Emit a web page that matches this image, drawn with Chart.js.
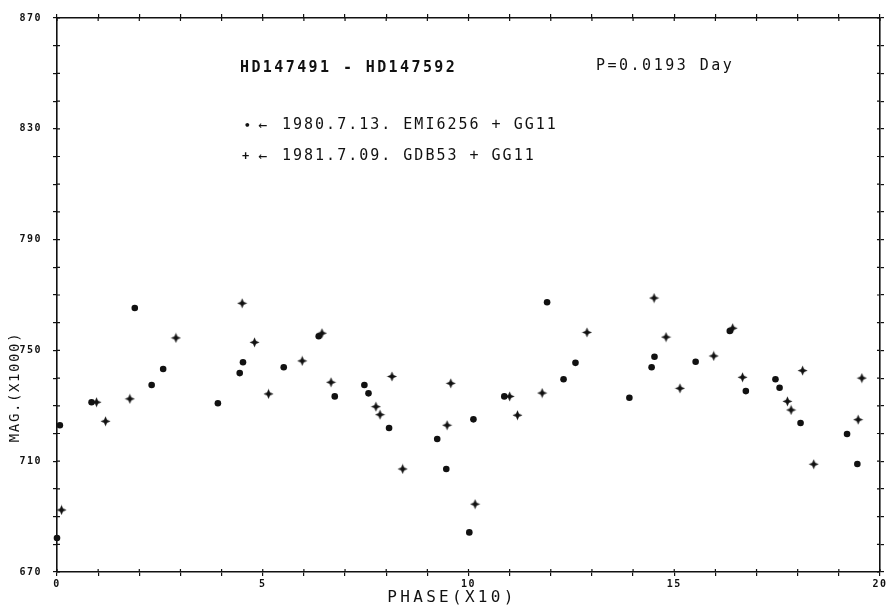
<!DOCTYPE html>
<html>
<head>
<meta charset="utf-8">
<script src="https://cdn.jsdelivr.net/npm/chart.js@4.4.1/dist/chart.umd.min.js"></script>
<style>
  html, body { margin: 0; padding: 0; background: #fff; }
  #wrap { width: 888px; height: 612px; }
</style>
</head>
<body>
<div id="wrap"><canvas id="lc"></canvas></div>
<script>
// 1980.7.13 run (dots)
const phase1980 = [0.00, 0.07, 0.84, 1.89, 2.30, 2.58, 3.91, 4.44, 4.52, 5.51, 6.36, 6.75, 7.47, 7.57, 8.07, 9.24, 9.46,
                   10.02, 10.12, 10.87, 11.91, 12.31, 12.60, 13.91, 14.45, 14.52, 15.52, 16.35, 16.74, 17.46, 17.56, 18.07, 19.20, 19.45];
const mag1980 = [682.3, 723.0, 731.3, 765.3, 737.5, 743.3, 730.9, 741.8, 745.7, 743.9, 755.1, 733.4, 737.5, 734.5, 722.0, 718.0, 707.2,
                 684.3, 725.1, 733.4, 767.4, 739.6, 745.5, 732.9, 743.9, 747.7, 745.9, 757.0, 735.3, 739.6, 736.5, 723.8, 719.8, 709.0];

// 1981.7.09 run (crosses)
const phase1981 = [0.11, 0.96, 1.18, 1.77, 2.89, 4.50, 4.80, 5.14, 5.96, 6.44, 6.66, 7.75, 7.85, 8.14, 8.40, 9.48, 9.57,
                   10.16, 11.00, 11.19, 11.79, 12.88, 14.51, 14.80, 15.14, 15.96, 16.42, 16.66, 17.75, 17.84, 18.12, 18.39, 19.47, 19.56];
const mag1981 = [692.4, 731.3, 724.4, 732.5, 754.5, 767.0, 752.9, 734.3, 746.2, 756.2, 738.5, 729.7, 726.8, 740.6, 707.2, 723.0, 738.1,
                 694.5, 733.4, 726.6, 734.6, 756.5, 768.9, 754.8, 736.3, 748.0, 758.0, 740.3, 731.6, 728.5, 742.7, 708.9, 725.0, 740.0];

const xLabels = [0, 5, 10, 15, 20];
const yLabels = [670, 710, 750, 790, 830, 870];

const titleText = 'HD147491 - HD147592';
const periodText = 'P=0.0193 Day';
const xTitle = 'PHASE(X10)';
const yTitle = 'MAG.(X1000)';

const ink = '#111';
const mono = '"DejaVu Sans Mono", monospace';

// small 4-point star for the 1981 points
function starMark() {
    const c = document.createElement('canvas');
    c.width = 11; c.height = 11;
    const g = c.getContext('2d');
    g.fillStyle = ink;
    g.beginPath();
    g.moveTo(5.5, 0.5);
    g.lineTo(7, 4); g.lineTo(10.5, 5.5); g.lineTo(7, 7);
    g.lineTo(5.5, 10.5);
    g.lineTo(4, 7); g.lineTo(0.5, 5.5); g.lineTo(4, 4);
    g.closePath();
    g.fill();
    return c;
}

function spaced(ctx, px) {
    if ('letterSpacing' in ctx) ctx.letterSpacing = px + 'px';
}

const textPlugin = {
    id: 'textPlugin',
    beforeDraw(chart) {
        spaced(chart.ctx, 1.5);
    },
    afterDraw(chart) {
        const ctx = chart.ctx;
        const a = chart.chartArea;
        const xs = chart.scales.x, ys = chart.scales.y;
        ctx.save();
        // inner half of the tick marks
        ctx.strokeStyle = ink;
        ctx.lineWidth = 1.2;
        ctx.beginPath();
        xs.ticks.forEach(t => {
            const p = xs.getPixelForValue(t.value);
            ctx.moveTo(p, a.bottom); ctx.lineTo(p, a.bottom - 3);
            ctx.moveTo(p, a.top); ctx.lineTo(p, a.top + 3);
        });
        ys.ticks.forEach(t => {
            const p = ys.getPixelForValue(t.value);
            ctx.moveTo(a.left, p); ctx.lineTo(a.left + 3, p);
            ctx.moveTo(a.right, p); ctx.lineTo(a.right - 3, p);
        });
        ctx.stroke();

        ctx.fillStyle = ink;
        ctx.textBaseline = 'middle';
        ctx.textAlign = 'left';

        ctx.font = 'bold 15px ' + mono;
        spaced(ctx, 2.4);
        ctx.fillText(titleText, 240, 68);
        ctx.font = '15px ' + mono;
        spaced(ctx, 2.5);
        ctx.fillText(periodText, 596, 66);

        // legend rows
        const ds = chart.data.datasets;
        ctx.font = '15px ' + mono;
        spaced(ctx, 2);
        ctx.fillText(ds[0].label, 282, 125);
        ctx.fillText(ds[1].label, 282, 156);
        spaced(ctx, 0);
        ctx.font = 'bold 11px ' + mono;
        ctx.fillText('\u2022', 244, 126);
        ctx.font = 'bold 12px ' + mono;
        ctx.fillText('+', 242, 157);
        ctx.font = '15px ' + mono;
        ctx.fillText('\u2190', 258, 126);
        ctx.fillText('\u2190', 258, 157);

        // axis titles
        ctx.font = '16px ' + mono;
        spaced(ctx, 3.3);
        ctx.textAlign = 'center';
        ctx.fillText(xTitle, 452, 598);
        ctx.translate(15, 387);
        ctx.rotate(-Math.PI / 2);
        ctx.font = '14px ' + mono;
        spaced(ctx, 1.6);
        ctx.fillText(yTitle, 0, 0);
        ctx.restore();
    }
};

const tickFont = { family: mono, size: 10, weight: 'bold' };

function frameAxis(pos, min, max, step, labels, fitSize) {
    return {
        type: 'linear',
        position: pos,
        min: min,
        max: max,
        grid: { display: true, drawOnChartArea: false, drawTicks: true, tickLength: 4, color: ink, lineWidth: 1.2 },
        border: { display: true, color: ink, width: 1.6 },
        ticks: {
            display: labels !== null,
            stepSize: step,
            autoSkip: false,
            maxRotation: 0,
            color: ink,
            font: tickFont,
            padding: (pos === 'left') ? 11 : 2,
            callback: v => (labels && labels.includes(v)) ? String(v) : ''
        },
        afterFit: s => {
            if (pos === 'left' || pos === 'right') s.width = fitSize;
            else s.height = fitSize;
        }
    };
}

new Chart(document.getElementById('lc'), {
    type: 'scatter',
    data: {
        datasets: [
            {
                label: '1980.7.13. EMI6256 + GG11',
                data: phase1980.map((p, i) => ({ x: p, y: mag1980[i] })),
                pointStyle: 'circle',
                pointRadius: 3.3,
                backgroundColor: ink,
                borderColor: ink,
                borderWidth: 0
            },
            {
                label: '1981.7.09. GDB53 + GG11',
                data: phase1981.map((p, i) => ({ x: p, y: mag1981[i] })),
                pointStyle: starMark(),
                pointRadius: 5,
                backgroundColor: ink,
                borderColor: ink
            }
        ]
    },
    options: {
        responsive: true,
        maintainAspectRatio: false,
        animation: false,
        clip: false,
        layout: { padding: 0 },
        plugins: { legend: { display: false }, tooltip: { enabled: false } },
        scales: {
            x: frameAxis('bottom', 0, 20, 1, xLabels, 40),
            y: frameAxis('left', 670, 870, 10, yLabels, 57),
            x2: frameAxis('top', 0, 20, 1, null, 18),
            y2: frameAxis('right', 670, 870, 10, null, 6)
        }
    },
    plugins: [textPlugin]
});
</script>
</body>
</html>
